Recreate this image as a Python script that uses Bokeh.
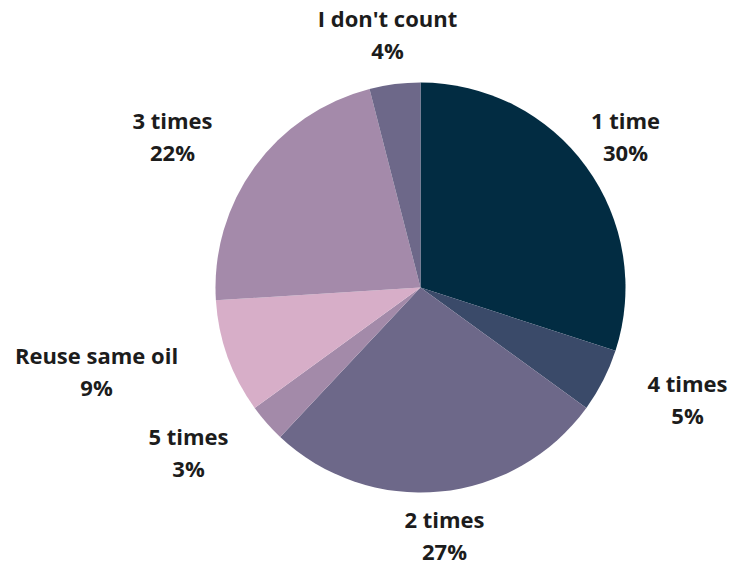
import math
from bokeh.plotting import figure
from bokeh.models import Range1d, ColumnDataSource
from bokeh.core.properties import value
from bokeh.embed import file_html
from bokeh.resources import INLINE

# ---- data (clockwise from 12 o'clock) ----
categories = ["1 time", "4 times", "2 times", "5 times", "Reuse same oil", "3 times", "I don't count"]
shares = [30, 5, 27, 3, 9, 22, 4]
colors = ["#022c42", "#3a4a69", "#6d6889", "#a38aa9", "#d7aec8", "#a48aaa", "#6d6889"]

# ---- layout ----
W, H = 732, 566
cx, cy = 420, H - 287
R = 205
# label centre offsets from pie centre (pixels, x right / y up)
label_offsets = [(205, 152), (267, -111), (24, -247), (-232, -164), (-324, -83), (-248, 152), (-33, 254)]
line_gap = 16

total = float(sum(shares))
starts, ends = [], []
cum = 0.0
for s in shares:
    a0 = math.pi / 2 - 2 * math.pi * (cum + s) / total
    a1 = math.pi / 2 - 2 * math.pi * cum / total
    starts.append(a0)
    ends.append(a1)
    cum += s

src = ColumnDataSource(dict(start=starts, end=ends, color=colors, cat=categories))

p = figure(width=W, height=H, x_range=Range1d(0, W), y_range=Range1d(0, H),
           output_backend="svg", toolbar_location=None, min_border=0)
p.axis.visible = False
p.grid.visible = False
p.outline_line_color = None
p.background_fill_color = "white"
p.border_fill_color = "white"

p.wedge(x=cx, y=cy, radius=R, start_angle="start", end_angle="end",
        fill_color="color", line_color=None, source=src)

lx = [cx + dx for dx, dy in label_offsets]
ly = [cy + dy for dx, dy in label_offsets]
lsrc = ColumnDataSource(dict(
    x=lx,
    y1=[y + line_gap for y in ly],
    y2=[y - line_gap for y in ly],
    name=categories,
    pct=[f"{s}%" for s in shares],
))
common = dict(text_font=value("Open Sans"), text_font_style="bold", text_font_size="22px",
              text_color="#1c1c1c", text_align="center", text_baseline="middle", source=lsrc)
p.text(x="x", y="y1", text="name", **common)
p.text(x="x", y="y2", text="pct", **common)

open("out.html", "w").write(file_html(p, INLINE))
